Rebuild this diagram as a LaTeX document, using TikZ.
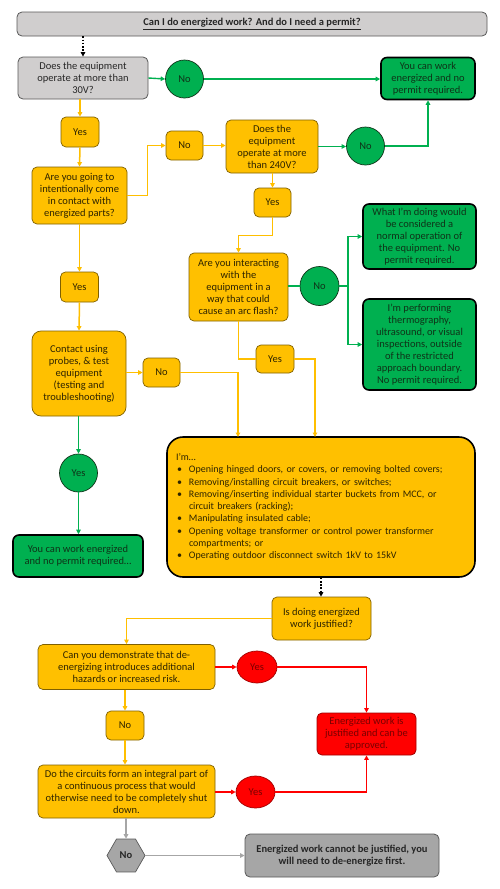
\documentclass[tikz,border=0pt]{standalone}
\usepackage{fontspec}
\setmainfont{Carlito}
\usetikzlibrary{arrows.meta,shapes.geometric}
\definecolor{orf}{HTML}{FFC000}
\definecolor{ord}{HTML}{7F6000}
\definecolor{orl}{HTML}{FFBF00}
\definecolor{ortx}{HTML}{2E2400}
\definecolor{grf}{HTML}{00B050}
\definecolor{grl}{HTML}{00B050}
\definecolor{grtx}{HTML}{0F3318}
\definecolor{rdf}{HTML}{FF0000}
\definecolor{rdd}{HTML}{A00000}
\definecolor{rdtx}{HTML}{7A0000}
\definecolor{gyf}{HTML}{D0CECE}
\definecolor{gyd}{HTML}{595959}
\definecolor{gym}{HTML}{A6A6A6}
\definecolor{gyl}{HTML}{A6A6A6}
\newcommand\bitem[1]{\par\hangindent=13pt\hangafter=1\noindent\makebox[13pt][l]{\hspace{1pt}\textbullet}#1}
\tikzset{
  txt/.style={font=\fontsize{10.5}{12}\selectfont},
  base/.style={rounded corners=5pt, align=center, txt, inner sep=0pt},
  obox/.style={base, fill=orf, draw=ord, line width=0.7pt, text=ortx},
  gbox/.style={base, fill=grf, draw=black, line width=1.6pt, text=grtx, rounded corners=6pt},
  qbox/.style={base, fill=gyf, draw=gyd, line width=0.8pt, text=black!85},
  gcirc/.style={circle, fill=grf, draw=grtx, line width=0.7pt, inner sep=0pt, text=grtx, txt},
  rell/.style={ellipse, fill=rdf, draw=rdd, line width=0.7pt, inner sep=0pt, text=rdtx, txt},
  rbox/.style={base, fill=rdf, draw=rdd, line width=0.8pt, text=rdtx},
  hexa/.style={regular polygon, regular polygon sides=6, fill=gym, draw=gyd, line width=0.7pt, inner sep=0pt, font=\bfseries\fontsize{10.5}{12}\selectfont, text=black!85},
  tip/.style={-{Triangle[length=4.5pt,width=4.5pt]}},
  oline/.style={draw=orl, line width=1.5pt},
  oarr/.style={oline, tip},
  gline/.style={draw=grl, line width=1.4pt},
  garr/.style={gline, tip},
  rarr/.style={draw=rdf, line width=1.4pt, tip},
  yarr/.style={draw=gyl, line width=1.4pt, tip},
  darr/.style={draw=black, line width=1.6pt, dash pattern=on 1.6pt off 1.6pt, tip},
}
\begin{document}
\begin{tikzpicture}[x=1pt,y=-1pt]
\useasboundingbox[fill=white] (0,0) rectangle (500,889);
% title
\node[qbox, minimum width=470pt, minimum height=24pt, font=\bfseries\fontsize{10.5}{12}\selectfont] (title) at (252,24) {\underline{Can I do energized work? And do I need a permit?}};
% row 1
\node[qbox, minimum width=130pt, minimum height=42pt] (Q1) at (83,78) {Does the equipment\\operate at more than\\30V?};
\node[gcirc, minimum size=38pt] (No1) at (184.5,79) {No};
\node[gbox, minimum width=94pt, minimum height=42pt] (R1) at (428,78.5) {You can work\\energized and no\\permit required.};
% left column
\node[obox, minimum width=38pt, minimum height=30pt] (Yes1) at (80,132) {Yes};
\node[obox, minimum width=95pt, minimum height=57pt] (Q2) at (79.5,195.5) {Are you going to\\intentionally come\\in contact with\\energized parts?};
\node[obox, minimum width=37pt, minimum height=29pt] (No2) at (184.5,145.5) {No};
\node[obox, minimum width=92pt, minimum height=53pt] (Q3) at (272,146.5) {Does the\\equipment\\operate at more\\than 240V?};
\node[gcirc, minimum size=38pt] (No3) at (365.5,146) {No};
\node[obox, minimum width=37pt, minimum height=29pt] (Yes3) at (272.5,202.5) {Yes};
\node[obox, minimum width=99pt, minimum height=68pt] (Q4) at (238.5,287) {Are you interacting\\with the\\equipment in a\\way that could\\cause an arc flash?};
\node[gcirc, minimum size=39pt] (No4) at (319.5,286) {No};
\node[gbox, minimum width=113pt, minimum height=65pt] (R2) at (419.5,236.5) {What I’m doing would\\be considered a\\normal operation of\\the equipment. No\\permit required.};
\node[gbox, minimum width=113pt, minimum height=91pt] (R3) at (419.5,344.5) {I’m performing\\thermography,\\ultrasound, or visual\\inspections, outside\\of the restricted\\approach boundary.\\No permit required.};
\coordinate (J) at (348,286);
\node[obox, minimum width=38pt, minimum height=30pt] (Yes2) at (79.5,287) {Yes};
\node[obox, minimum width=94pt, minimum height=85pt, rounded corners=9pt] (Q5) at (79,373.5) {Contact using\\probes, \& test\\equipment\\(testing and\\troubleshooting)};
\node[obox, minimum width=37pt, minimum height=29pt] (No5) at (161.5,372.5) {No};
\node[obox, minimum width=38pt, minimum height=28pt] (Yes4) at (275,359) {Yes};
\node[obox, draw=black, line width=1.6pt, rounded corners=16pt, minimum width=308pt, minimum height=140pt, align=left, text width=290pt, font=\fontsize{10}{12.3}\selectfont] (Big) at (321,507) {%
\noindent I’m…\bitem{Opening hinged doors, or covers, or removing bolted covers;}\bitem{Removing/installing circuit breakers, or switches;}\bitem{Removing/inserting individual starter buckets from MCC, or\newline circuit breakers (racking);}\bitem{Manipulating insulated cable;}\bitem{Opening voltage transformer or control power transformer\newline compartments; or}\bitem{Operating outdoor disconnect switch 1kV to 15kV}};
\coordinate (B1) at (238,437);
\coordinate (B2) at (315,437);
\node[gcirc, minimum size=38pt] (YesC) at (78.5,473) {Yes};
\node[gbox, minimum width=130pt, minimum height=42pt] (R4) at (78,556) {You can work energized\\and no permit required…};
% lower part
\node[obox, minimum width=99pt, minimum height=43pt] (Q6) at (321.5,618.5) {Is doing energized\\work justified?};
\node[obox, minimum width=177pt, minimum height=45pt] (Q7) at (126.5,667) {Can you demonstrate that de-\\energizing introduces additional\\hazards or increased risk.};
\node[rell, minimum width=40pt, minimum height=32pt] (Yes7) at (257,667) {Yes};
\node[rbox, minimum width=99pt, minimum height=42pt] (R5) at (366.5,734) {Energized work is\\justified and can be\\approved.};
\node[obox, minimum width=38pt, minimum height=29pt] (No7) at (125,725.5) {No};
\node[obox, minimum width=177pt, minimum height=53pt] (Q8) at (126.5,791.5) {Do the circuits form an integral part of\\a continuous process that would\\otherwise need to be completely shut\\down.};
\node[rell, minimum width=39pt, minimum height=32pt] (Yes8) at (255.5,792) {Yes};
\node[hexa, minimum size=38pt] (No8) at (126,855.5) {No};
\node[qbox, fill=gym, minimum width=194pt, minimum height=43pt, font=\bfseries\fontsize{10.5}{12}\selectfont] (R6) at (342,855.5) {Energized work cannot be justified, you\\will need to de-energize first.};
% connectors
\draw[darr] (title.south -| Q1.north) -- (Q1.north);
\draw[garr] (Q1.east) -- (No1.west);
\draw[garr] (No1.east) -- (No1.east -| R1.west);
\draw[oarr] (Q1.south -| Yes1.north) -- (Yes1.north);
\draw[oarr] (Yes1.south) -- (Q2.north);
\draw[oarr] (Q2.east) -- ++(20,0) |- (No2.west);
\draw[oarr] (No2.east) -- (No2.east -| Q3.west);
\draw[garr] (Q3.east) -- (Q3.east -| No3.west);
\draw[garr] (No3.east) -| (R1.south);
\draw[oarr] (Q3.south -| Yes3.north) -- (Yes3.north);
\draw[oarr] (Yes3.south) -- ++(0,18) -| (Q4.north);
\draw[gline] (Q4.east |- No4.west) -- (No4.west);
\draw[gline] (No4.east) -- (J);
\draw[garr] (J) |- (R2.west);
\draw[garr] (J) |- (R3.west);
\draw[oarr] (Q2.south) -- (Yes2.north);
\draw[oarr] (Yes2.south) -- (Q5.north);
\draw[oarr] (Q5.east |- No5.west) -- (No5.west);
\draw[oarr] (No5.east) -| (B1);
\draw[oline] (Q4.south) |- (Yes4.west);
\draw[oarr] (Yes4.east) -| (B2);
\draw[garr] (Q5.south -| YesC.north) -- (YesC.north);
\draw[garr] (YesC.south) -- (R4.north -| YesC.south);
\draw[darr] (Big.south) -- (Q6.north -| Big.south);
\draw[oarr] (Q6.west) -| (Q7.north);
\draw[rarr] (Q7.east) -- (Yes7.west);
\draw[rarr] (Yes7.east) -| (R5.north);
\draw[oarr] (Q7.south -| No7.north) -- (No7.north);
\draw[oarr] (No7.south) -- (Q8.north -| No7.south);
\draw[rarr] (Q8.east |- Yes8.west) -- (Yes8.west);
\draw[rarr] (Yes8.east) -| (R5.south);
\draw[yarr] (Q8.south -| No8.north) -- (No8.north);
\draw[yarr] (No8.east) -- (No8.east -| R6.west);
\end{tikzpicture}
\end{document}
